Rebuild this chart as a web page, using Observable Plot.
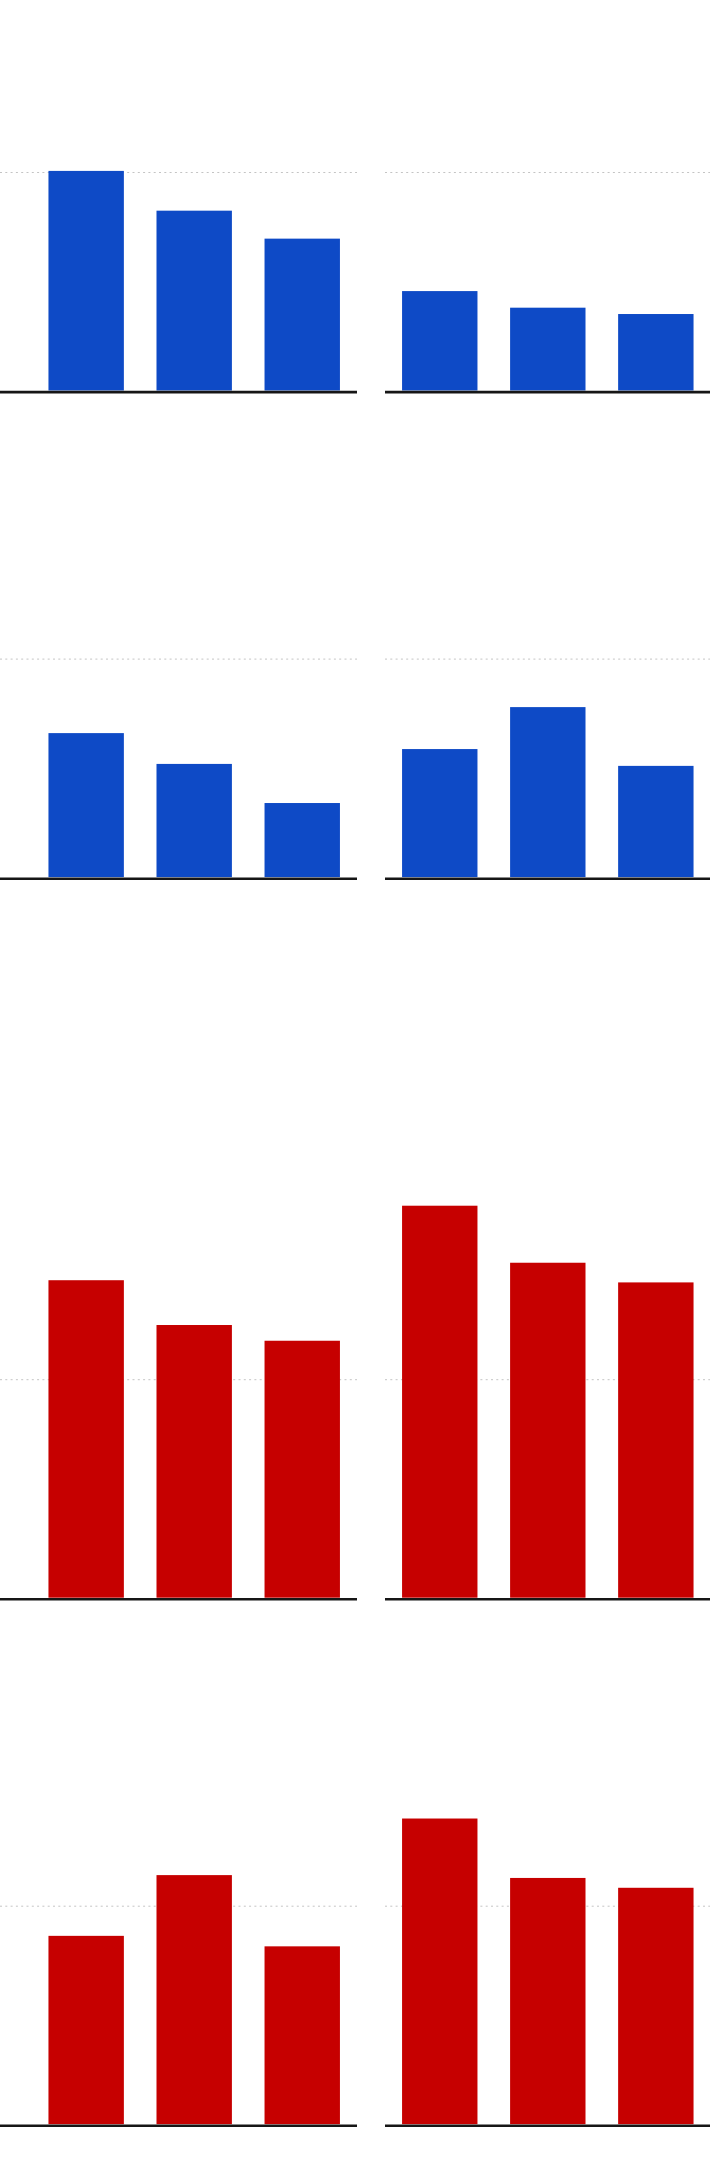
<!DOCTYPE html>
<html>
<head>
<meta charset="utf-8">
<script src="https://cdn.jsdelivr.net/npm/d3@7"></script>
<script src="https://cdn.jsdelivr.net/npm/@observablehq/plot@0.6"></script>
<style>
  html, body { margin: 0; padding: 0; background: #ffffff; }
  #chart { width: 710px; overflow: hidden; font-family: "Noto Sans", sans-serif; }
  .row { display: flex; width: 710px; }
  .row svg { display: block; flex: none; }
  .gap { width: 28px; flex: none; }
</style>
</head>
<body>
<div id="chart"></div>
<script>
// ---- data (gridline value = 10) ----
const categories = ["1", "2", "3"];
const gridTicks = [10];

const blueTopLeft     = [10.05, 8.23, 6.95];
const blueTopRight    = [4.55, 3.79, 3.50];
const blueBottomLeft  = [6.59, 5.18, 3.39];
const blueBottomRight = [5.86, 7.78, 5.09];

const redTopLeft      = [14.53, 12.48, 11.76];
const redTopRight     = [17.94, 15.33, 14.43];
const redBottomLeft   = [8.62, 11.40, 8.14];
const redBottomRight  = [13.99, 11.27, 10.82];

const blue = "#0e4ac6";
const red = "#c60000";

// ---- layout ----
const pxPerGrid = 218.5;
const rows = [
  {left: blueTopLeft,    right: blueTopRight,    color: blue, height: 420, base: 390.5},
  {left: blueBottomLeft, right: blueBottomRight, color: blue, height: 486, base: 457.1},
  {left: redTopLeft,     right: redTopRight,     color: red,  height: 721, base: 691.7},
  {left: redBottomLeft,  right: redBottomRight,  color: red,  height: 543, base: 497.2}
];

function panel(values, color, width, height, base, xRange) {
  const data = categories.map((c, i) => ({cat: c, value: values[i]}));
  return Plot.plot({
    width, height,
    marginLeft: 0, marginRight: 0, marginTop: 0, marginBottom: 0,
    x: {domain: categories, range: xRange, paddingInner: 0.302, paddingOuter: 0.157, round: false, axis: null},
    y: {domain: [0, gridTicks[0]], range: [base, base - pxPerGrid], axis: null},
    style: {background: "transparent", overflow: "visible"},
    marks: [
      Plot.ruleY(gridTicks, {stroke: "#c4c4c4", strokeWidth: 1, strokeDasharray: "2,3.3"}),
      Plot.barY(data, {x: "cat", y: "value", fill: color}),
      Plot.ruleY([0], {stroke: "#161616", strokeWidth: 2.6, dy: 1.1})
    ]
  });
}

const root = document.getElementById("chart");
for (const r of rows) {
  const div = document.createElement("div");
  div.className = "row";
  div.style.height = r.height + "px";
  div.appendChild(panel(r.left, r.color, 357, r.height, r.base, [31.5, 356.9]));
  const g = document.createElement("div");
  g.className = "gap";
  div.appendChild(g);
  div.appendChild(panel(r.right, r.color, 325, r.height, r.base, [0.1, 325.5]));
  root.appendChild(div);
}
</script>
</body>
</html>
